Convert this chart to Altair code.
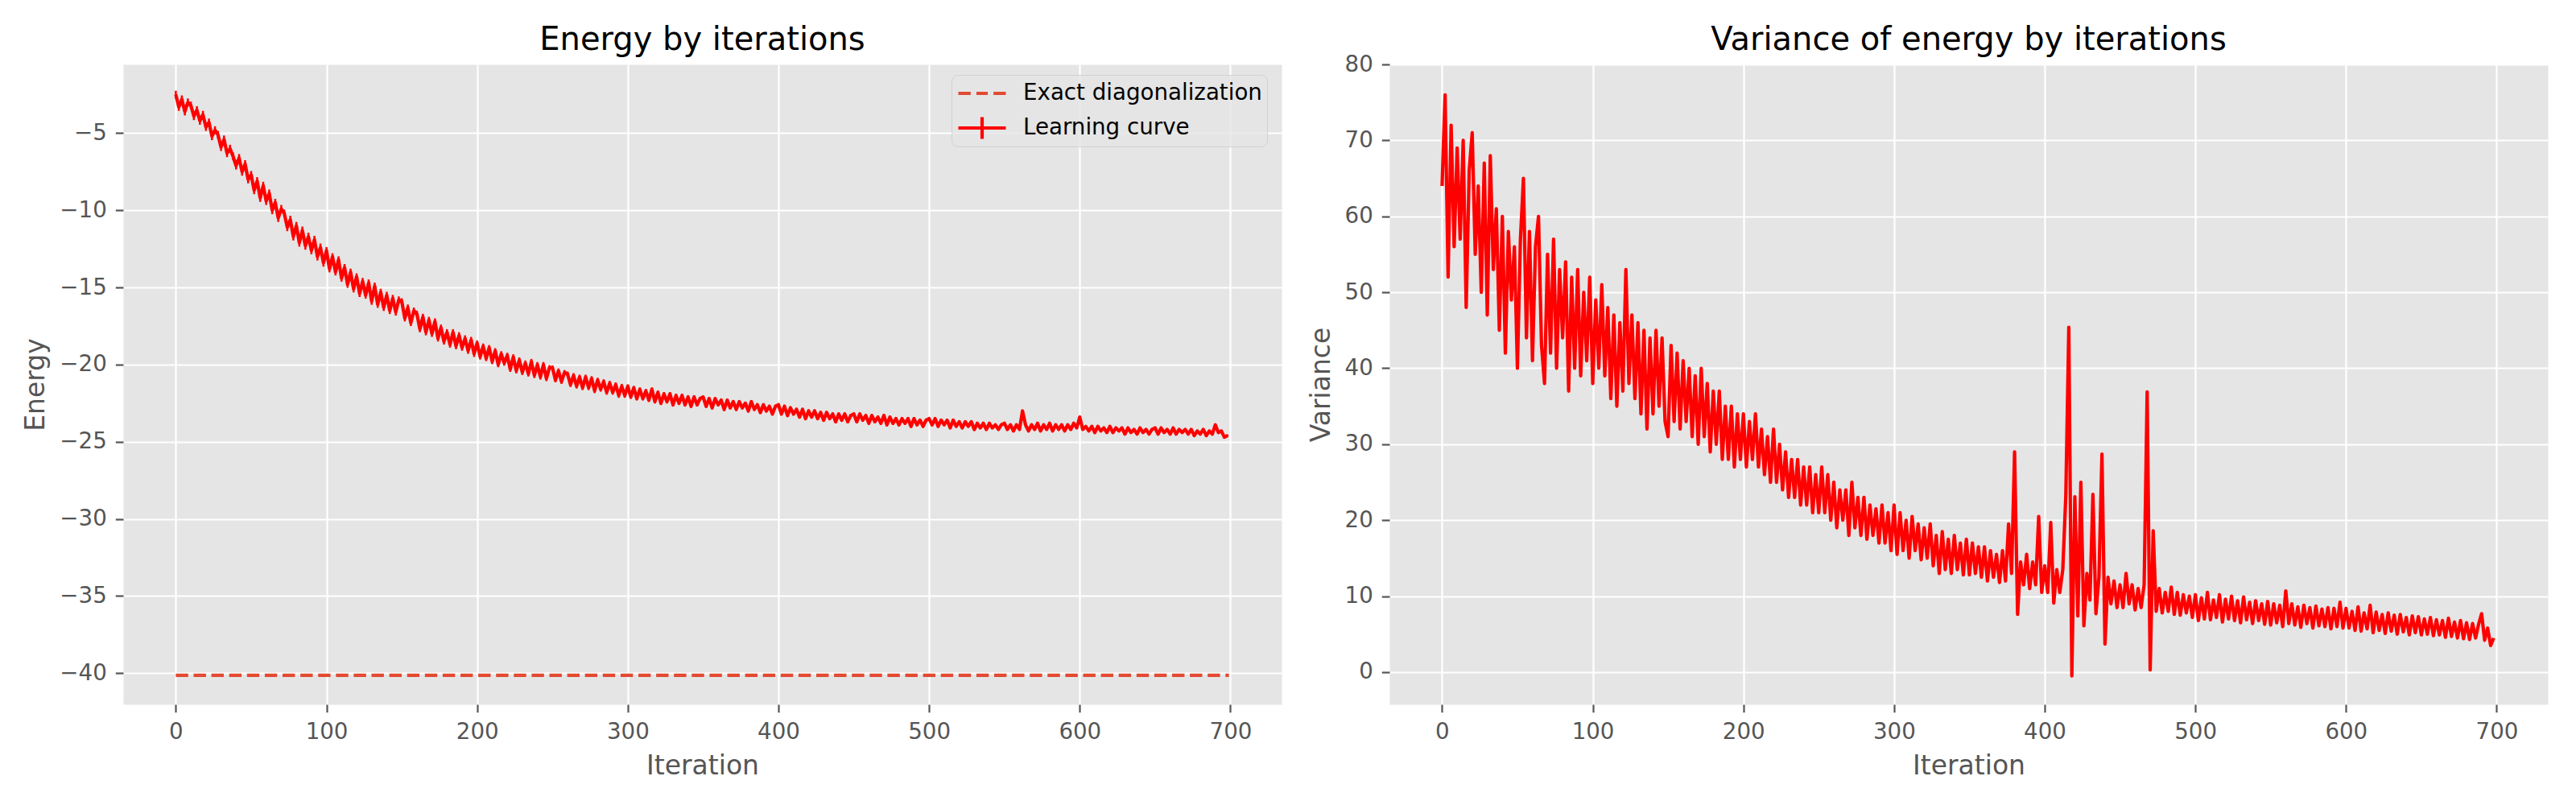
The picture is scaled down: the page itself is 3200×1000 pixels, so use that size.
import altair as alt
import pandas as pd

# ---------------- data (every 2nd iteration) ----------------
iterations = list(range(0, 700, 2))
n_iterations = 700
exact_energy = -40.14

energy = [
    -2.5, -3.3, -2.8, -3.6, -3.0, -3.2, -3.9, -3.5, -4.2, -3.8, -4.6, -4.3, -5.2, -4.8, -5.1, -5.9, -5.4, -6.3, -6.0, -6.5, -7.1, -6.6, -7.5, -7.0, -8.0,
    -7.7, -8.7, -8.1, -9.2, -8.4, -9.4, -8.9, -10.0, -9.5, -10.5, -9.9, -10.2, -11.1, -10.6, -11.7, -11.0, -12.1, -11.3, -12.3, -11.7, -12.6, -11.9, -13.0, -12.4, -13.4,
    -12.6, -13.8, -13.0, -14.0, -13.2, -14.4, -13.7, -14.8, -14.0, -15.1, -14.3, -15.4, -14.6, -15.5, -14.7, -15.9, -14.9, -16.1, -15.3, -16.3, -15.5, -16.5, -15.7, -16.6, -15.8,
    -15.9, -17.0, -16.3, -17.3, -16.5, -16.7, -17.7, -16.9, -17.9, -17.1, -18.0, -17.2, -18.3, -17.6, -18.5, -17.9, -18.7, -17.9, -18.8, -18.1, -18.9, -18.3, -19.1, -18.4, -19.3,
    -18.6, -19.5, -18.8, -19.6, -18.9, -19.8, -19.1, -20.0, -19.3, -19.9, -19.4, -20.3, -19.5, -20.4, -19.7, -20.5, -19.9, -20.6, -19.8, -20.7, -20.0, -20.8, -20.0, -20.9, -20.2,
    -20.2, -21.0, -20.4, -21.1, -20.5, -20.6, -21.3, -20.7, -21.4, -20.8, -21.5, -20.8, -21.5, -20.9, -21.7, -21.0, -21.6, -21.1, -21.8, -21.2, -21.8, -21.3, -22.0, -21.4, -22.0,
    -21.4, -22.1, -21.5, -22.2, -21.6, -22.2, -21.7, -22.3, -21.6, -22.4, -21.8, -22.5, -21.9, -22.4, -21.9, -22.6, -22.0, -22.5, -22.0, -22.6, -22.1, -22.7, -22.1, -22.6, -22.2,
    -22.1, -22.7, -22.2, -22.8, -22.2, -22.6, -22.3, -22.9, -22.3, -22.8, -22.4, -22.9, -22.4, -22.8, -22.5, -23.0, -22.4, -22.9, -22.6, -23.1, -22.6, -23.0, -22.7, -23.2, -22.7,
    -22.6, -23.2, -22.7, -23.3, -22.8, -23.2, -22.9, -23.4, -22.9, -23.5, -23.0, -23.4, -23.0, -23.5, -23.1, -23.6, -23.1, -23.5, -23.2, -23.7, -23.2, -23.6, -23.2, -23.7, -23.3,
    -23.2, -23.7, -23.2, -23.6, -23.3, -23.8, -23.3, -23.7, -23.4, -23.8, -23.3, -23.9, -23.4, -23.8, -23.5, -23.9, -23.5, -23.8, -23.5, -24.0, -23.5, -23.9, -23.6, -24.0, -23.6,
    -23.5, -23.9, -23.5, -24.0, -23.6, -23.9, -23.6, -24.1, -23.6, -24.0, -23.7, -24.1, -23.7, -24.0, -23.7, -24.2, -23.8, -24.1, -23.8, -24.2, -23.8, -24.1, -23.9, -24.2, -23.9,
    -23.8, -24.2, -23.9, -24.3, -23.9, -24.2, -23.0, -23.9, -24.3, -23.9, -24.2, -23.8, -24.3, -23.9, -24.2, -23.8, -24.3, -23.9, -24.2, -23.9, -24.3, -23.9, -24.2, -23.8, -24.1,
    -23.4, -24.2, -24.0, -24.3, -24.0, -24.4, -24.0, -24.3, -24.1, -24.4, -24.0, -24.4, -24.1, -24.3, -24.1, -24.5, -24.1, -24.4, -24.2, -24.5, -24.1, -24.4, -24.2, -24.5, -24.2,
    -24.1, -24.5, -24.1, -24.4, -24.2, -24.5, -24.1, -24.5, -24.2, -24.4, -24.2, -24.5, -24.2, -24.6, -24.3, -24.5, -24.2, -24.6, -24.3, -24.5, -23.9, -24.4, -24.3, -24.7, -24.6,
]

# error bar half-widths of the learning curve, one value per block of 50 iterations
energy_err_blocks = [0.25, 0.25, 0.22, 0.2, 0.17, 0.15, 0.12, 0.1, 0.1, 0.1, 0.08, 0.08, 0.08, 0.08]

variance = [
    64, 76, 52, 72, 56, 69, 57, 70, 48, 66, 71, 55, 64, 50, 67, 47, 68, 53, 61, 45, 60, 42, 58, 49, 56,
    40, 57, 65, 44, 58, 41, 56, 60, 43, 38, 55, 42, 57, 40, 53, 44, 54, 37, 52, 40, 53, 39, 50, 41, 52,
    38, 49, 40, 51, 39, 48, 36, 47, 35, 46, 37, 53, 38, 47, 36, 46, 34, 45, 32, 44, 34, 45, 35, 44, 33,
    31, 43, 33, 42, 32, 41, 33, 40, 31, 39, 30, 40, 31, 38, 29, 37, 30, 37, 28, 35, 28, 35, 27, 34, 28,
    34, 27, 33, 28, 34, 27, 32, 26, 31, 25, 32, 25, 30, 24, 29, 23, 28, 23, 28, 22, 27, 22, 27, 21, 26,
    21, 27, 21, 26, 20, 25, 19, 24, 20, 24, 18, 25, 19, 23, 18, 23, 17.5, 22, 18, 21.5, 17, 22, 17, 21, 16,
    22, 15.5, 21, 16, 20, 15, 20.5, 16, 19.5, 14.8, 19, 15, 19.5, 14, 18, 13, 18.5, 13.5, 17.5, 13, 18, 13.5, 17, 12.8, 17.5,
    12.8, 17, 13, 16.5, 12.5, 16.5, 12, 16, 12.5, 15.5, 11.8, 16, 12, 19.5, 13, 29, 7.6, 14.5, 11.5, 15.5, 11, 14.5, 11.5, 20.5, 10.5,
    14, 10.5, 19.7, 9.1, 13.5, 10.5, 13.5, 23.2, 45.4, -0.5, 23.1, 7.4, 25, 6.1, 13, 9.5, 23.4, 7.7, 12.5, 28.7, 3.7, 12.5, 9, 12, 8.5,
    11.5, 8.5, 13, 9, 11.5, 8.2, 11, 8.5, 11.5, 36.9, 0.3, 18.6, 8, 11, 7.8, 10.5, 8, 11.2, 7.6, 10.5, 7.5, 10.2, 7.8, 10, 7.2,
    10.2, 6.8, 9.8, 7, 10.5, 6.9, 9.5, 7.2, 10.2, 6.6, 9.6, 7, 10, 6.8, 9.4, 6.5, 9.9, 6.9, 9.2, 6.4, 9.4, 6.8, 9, 6.3, 9.3,
    6.2, 9, 6.5, 8.8, 6, 10.7, 6.4, 9, 6.2, 8.6, 5.9, 8.8, 6.4, 8.5, 5.8, 8.7, 6.1, 8.3, 6, 8.5, 5.7, 8.4, 6, 9.2, 5.8,
    8.4, 5.8, 8, 5.5, 8.6, 5.4, 7.8, 5.7, 8.8, 5.2, 7.9, 5.5, 7.6, 5.1, 7.8, 5.4, 7.5, 5, 7.6, 5.3, 7.2, 4.9, 7.4, 5.2, 7.3,
    4.9, 7, 5, 7.2, 4.8, 6.9, 4.9, 6.8, 4.6, 7.1, 4.7, 6.6, 4.5, 6.8, 4.4, 6.5, 4.3, 6.4, 4.5, 6.3, 7.7, 4.2, 5.8, 3.5, 4.5,
]

series_names = ["Exact diagonalization", "Learning curve"]
series_colors = ["#E24A33", "#FF0000"]
x_ticks = [0, 100, 200, 300, 400, 500, 600, 700]
energy_ticks = [-40, -35, -30, -25, -20, -15, -10, -5]
variance_ticks = [0, 10, 20, 30, 40, 50, 60, 70, 80]

# ---------------- tables ----------------
df = pd.DataFrame({"Iteration": iterations, "Energy": energy, "Variance": variance})
df["err"] = [energy_err_blocks[i // 25] for i in range(len(iterations))]
exact_df = pd.DataFrame({"start": [0], "end": [n_iterations - 1], "Energy": [exact_energy]})

FONT = "DejaVu Sans"
PW, PH = 1439, 795
LW = 4.2

x_scale = alt.Scale(domain=[-34.95, 733.95], nice=False, zero=False)
x_axis = alt.Axis(values=x_ticks, title="Iteration", format="d")
energy_scale = alt.Scale(domain=[-42.02, -0.54], nice=False, zero=False)

# ---------------- left panel ----------------
energy_line = alt.Chart(df).mark_line(
    color="#FF0000", strokeWidth=LW, strokeJoin="round"
).encode(
    x=alt.X("Iteration:Q", scale=x_scale, axis=x_axis),
    y=alt.Y("Energy:Q", scale=energy_scale,
            axis=alt.Axis(values=energy_ticks, title="Energy")),
)

energy_err = alt.Chart(df).transform_calculate(
    lo="datum.Energy - datum.err", hi="datum.Energy + datum.err"
).mark_rule(color="#FF0000", strokeWidth=LW * 0.6).encode(
    x="Iteration:Q", y="lo:Q", y2="hi:Q"
)

exact_rule = alt.Chart(exact_df).mark_rule(
    color="#E24A33", strokeWidth=LW, strokeDash=[15.4, 6.7], strokeCap="butt"
).encode(
    x="start:Q", x2="end:Q", y="Energy:Q"
)

legend = alt.Legend(
    title=None, orient="none", legendX=1029, legendY=13,
    fillColor="rgba(229,229,229,0.8)", strokeColor="rgba(204,204,204,0.8)",
    cornerRadius=8, padding=6,
    labelFont=FONT, labelFontSize=27.7, labelColor="black", labelLimit=1000,
    symbolSize=3481, symbolStrokeWidth=LW, symbolOpacity=1,
    labelOffset=19, rowPadding=9, clipHeight=34,
)

dash_path = "M-1,0H-0.48M-0.24,0H0.24M0.48,0H1"
cross_path = "M-1,0H1M0,-0.46V0.46"

legend_layer = alt.Chart(df).transform_filter("false").mark_point(
    filled=False, size=3481, strokeWidth=LW, opacity=1
).encode(
    x="Iteration:Q",
    y="Energy:Q",
    color=alt.Color("series:N", scale=alt.Scale(domain=series_names, range=series_colors), legend=legend),
    shape=alt.Shape("series:N", scale=alt.Scale(domain=series_names, range=[dash_path, cross_path]), legend=legend),
)

left = alt.layer(energy_err, energy_line, exact_rule, legend_layer).properties(
    width=PW, height=PH,
    title=alt.Title("Energy by iterations", offset=10),
)

# ---------------- right panel ----------------
variance_line = alt.Chart(df).mark_line(
    color="#FF0000", strokeWidth=LW, strokeJoin="round"
).encode(
    x=alt.X("Iteration:Q", scale=x_scale, axis=x_axis),
    y=alt.Y("Variance:Q", scale=alt.Scale(domain=[-4.24, 80.0], nice=False, zero=False),
            axis=alt.Axis(values=variance_ticks, title="Variance")),
)

right = variance_line.properties(
    width=PW, height=PH,
    title=alt.Title("Variance of energy by iterations", offset=-4),
)

chart = alt.hconcat(left, right, spacing=31).resolve_legend(
    color="independent", shape="independent"
).properties(
    padding={"left": 20, "top": 21, "right": 5, "bottom": 5}
).configure(
    font=FONT
).configure_view(
    fill="#E5E5E5", stroke="transparent"
).configure_axis(
    grid=True, gridColor="white", gridWidth=2.2, domain=False,
    tickColor="#555555", tickWidth=2.2, tickSize=9.7,
    labelColor="#555555", labelFontSize=27.7, labelFont=FONT, labelPadding=11,
    labelFlush=False, labelOverlap=False,
    titleColor="#555555", titleFontSize=33, titleFont=FONT, titleFontWeight="normal", titlePadding=12,
).configure_title(
    font=FONT, fontSize=40, fontWeight="normal", color="black",
    anchor="middle", frame="group", baseline="alphabetic",
)

chart.save("out.html", embed_options={"renderer": "svg", "actions": False})
